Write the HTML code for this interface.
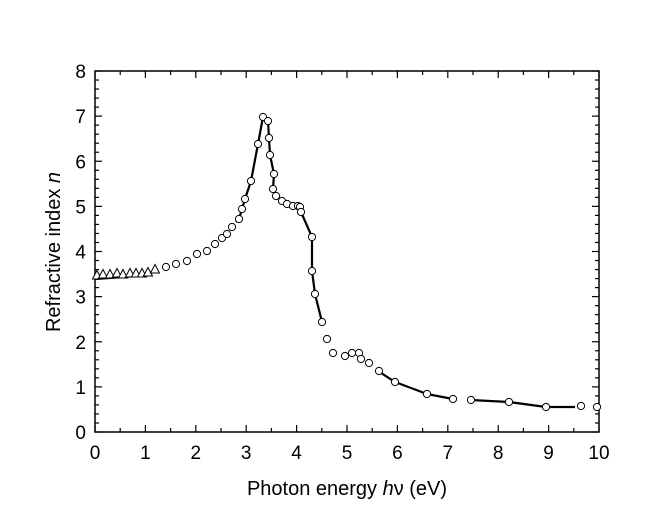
<!DOCTYPE html>
<html><head><meta charset="utf-8"><style>body{margin:0;background:#fff}svg{display:block}</style></head><body>
<svg width="660" height="510" viewBox="0 0 660 510" xmlns="http://www.w3.org/2000/svg" font-family="Liberation Sans, Arial, sans-serif">
<rect width="660" height="510" fill="#fff"/>
<g stroke="#000" stroke-width="1.5" fill="none">
<rect x="95" y="71" width="504" height="361"/>
</g>
<g id="ticks" stroke="#000" stroke-width="1.2"></g>
<g font-size="19" text-anchor="middle" id="xl"></g>
<g font-size="19" text-anchor="end" id="yl"></g>
<text x="347" y="495" font-size="20" text-anchor="middle">Photon energy <tspan font-style="italic">h</tspan>ν (eV)</text>
<text transform="translate(60,252) rotate(-90)" font-size="20" text-anchor="middle">Refractive index <tspan font-style="italic">n</tspan></text>
<g stroke="#000" stroke-width="2.2" fill="none" stroke-linejoin="round">
<polyline points="95,279 152,275"/>
<polyline points="236,222 239,219 242,209 245,199 251,181 258,144 263,117 268,121 269,138 270,155 274,174 273,189 276,196 282,201 287,204 293,206 298,206 300,207 301,212 312,237 312,271 315,294 322,322"/>
<polyline points="378,371 395,382 427,394 453,399"/>
<polyline points="471,400 509,402 546,407 575,407"/>
</g>
<g id="pts" stroke="#000" stroke-width="1" fill="#fff"></g>
</svg>
<script>
var ns="http://www.w3.org/2000/svg",t=document.getElementById('ticks');
function ln(a,b,c,d){var l=document.createElementNS(ns,'line');l.setAttribute('x1',a);l.setAttribute('y1',b);l.setAttribute('x2',c);l.setAttribute('y2',d);t.appendChild(l);}
for(var i=0;i<=20;i++){var x=95+i*25.2,L=i%2?4:7;ln(x,432,x,432-L);ln(x,71,x,71+L);}
for(var i=0;i<=40;i++){var y=432-i*361/40,L=i%5?4:7;ln(95,y,95+L,y);ln(599,y,599-L,y);}
var xl=document.getElementById('xl'),yl=document.getElementById('yl');
for(var i=0;i<=10;i++){var e=document.createElementNS(ns,'text');e.setAttribute('x',95+i*50.4);e.setAttribute('y',459);e.textContent=i;xl.appendChild(e);}
for(var i=0;i<=8;i++){var e=document.createElementNS(ns,'text');e.setAttribute('x',86);e.setAttribute('y',432-i*45.125+7);e.textContent=i;yl.appendChild(e);}
var p=document.getElementById('pts');
var tri=[[97,275],[103,274],[110,274],[117,273],[123,274],[130,273],[136,273],[142,273],[148,272],[155,269]];
tri.forEach(function(q){var e=document.createElementNS(ns,'polygon');e.setAttribute('points',(q[0]-4.5)+','+(q[1]+4)+' '+(q[0]+4.5)+','+(q[1]+4)+' '+q[0]+','+(q[1]-4.5));p.appendChild(e);});
var c=[[166,267],[176,264],[187,261],[197,254],[207,251],[215,244],[222,238],[227,234],[232,227],[239,219],[242,209],[245,199],[251,181],[258,144],[263,117],[268,121],[269,138],[270,155],[274,174],[273,189],[276,196],[282,201],[287,204],[293,206],[298,206],[300,207],[301,212],[312,237],[312,271],[315,294],[322,322],[327,339],[333,353],[345,356],[352,353],[359,353],[361,359],[369,363],[379,371],[395,382],[427,394],[453,399],[471,400],[509,402],[546,407],[581,406],[597,407]];
c.forEach(function(q){var e=document.createElementNS(ns,'circle');e.setAttribute('cx',q[0]);e.setAttribute('cy',q[1]);e.setAttribute('r',3.6);p.appendChild(e);});
</script>
</body></html>
